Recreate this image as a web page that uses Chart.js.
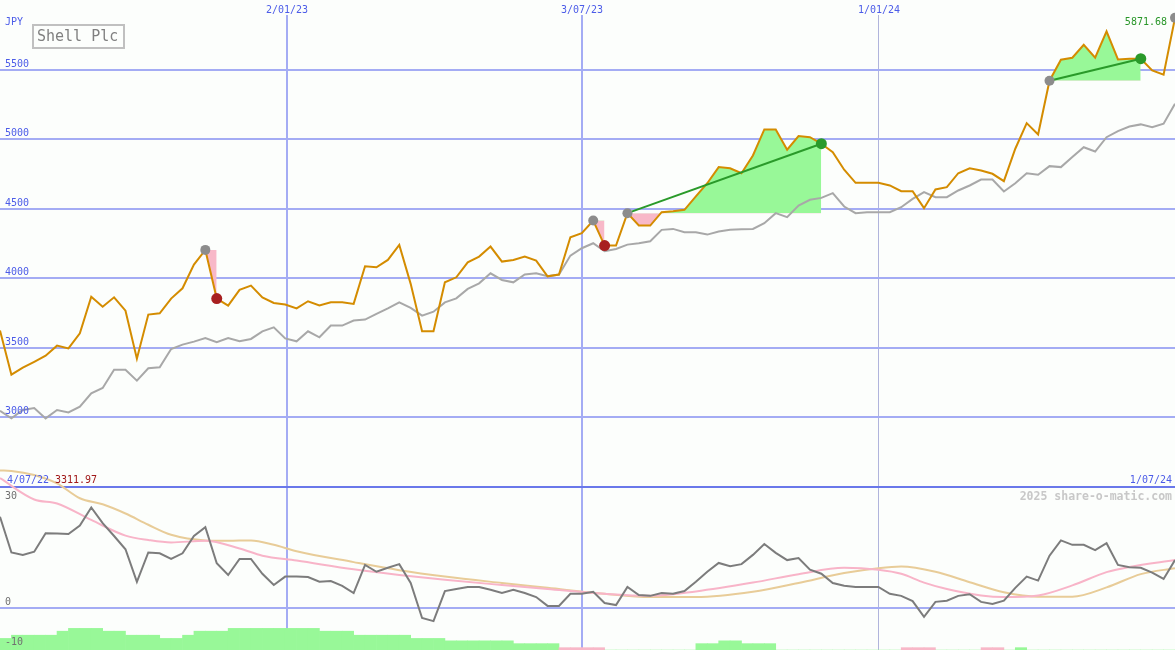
<!DOCTYPE html>
<html><head><meta charset="utf-8">
<script src="https://cdn.jsdelivr.net/npm/chart.js@4.4.1/dist/chart.umd.min.js"></script>
<style>html,body{margin:0;padding:0;background:#fcfefc;overflow:hidden}canvas{display:block}</style>
</head><body><canvas id="c" width="1175" height="650"></canvas>
<script>
// ---- data (weekly, index 0 = first week) ----
const price = [3624,3307,3358,3400,3444,3516,3496,3604,3868,3796,
3863,3767,3422,3739,3748,3854,3928,4099,4204,3854,
3804,3917,3947,3863,3823,3811,3784,3835,3804,3827,
3827,3816,4086,4079,4132,4240,3960,3619,3619,3971,
4007,4115,4156,4228,4120,4132,4156,4127,4014,4027,
4295,4324,4415,4235,4235,4468,4379,4379,4475,4482,
4492,4588,4683,4799,4791,4755,4883,5070,5070,4924,
5022,5014,4967,4906,4780,4686,4686,4686,4667,4626,
4626,4504,4638,4655,4755,4791,4775,4751,4698,4931,
5115,5034,5420,5571,5585,5678,5585,5775,5573,5578,
5578,5494,5463,5871.68];
const avgLine = [3048,2993,3053,3068,2993,3053,3036,3077,3173,3212,
3343,3343,3264,3353,3360,3492,3523,3545,3571,3540,
3571,3547,3564,3619,3647,3568,3547,3619,3576,3660,
3660,3696,3703,3744,3784,3827,3787,3732,3760,3827,
3856,3924,3964,4036,3988,3971,4027,4036,4014,4027,
4163,4216,4252,4194,4211,4242,4252,4266,4348,4355,
4331,4331,4314,4336,4348,4352,4355,4396,4468,4439,
4523,4564,4578,4612,4516,4468,4475,4475,4475,4511,
4571,4619,4583,4583,4631,4667,4710,4710,4624,4683,
4755,4744,4806,4799,4871,4942,4911,5014,5058,5091,
5106,5086,5111,5255];
const osc = [22.6,13.7,13.1,13.9,18.5,18.4,18.3,20.4,24.9,21.0,
17.8,14.5,6.4,13.7,13.5,12.1,13.5,17.8,20.0,11.0,
8.1,12.1,12.1,8.4,5.6,7.7,7.7,7.6,6.4,6.6,
5.4,3.6,10.6,8.9,9.9,10.8,6.1,-2.6,-3.4,4.1,
4.6,5.1,5.1,4.4,3.6,4.4,3.6,2.6,0.4,0.4,
3.4,3.4,3.9,1.1,0.6,5.1,3.1,2.9,3.6,3.4,
4.1,6.4,8.9,11.1,10.3,10.8,13.1,15.8,13.6,11.8,
12.3,9.4,8.4,6.1,5.4,5.1,5.1,5.1,3.4,2.9,
1.6,-2.3,1.4,1.7,2.9,3.3,1.4,0.9,1.7,4.9,
7.7,6.7,12.9,16.7,15.6,15.6,14.3,16.0,10.6,10.0,
9.9,8.7,7.1,11.8];
const pinkWeeks = [0,3,5,8,11,13,15,18,21,23,26,31,35,39,44,48,53,57,61,66,70,74,77,79,81,83,86,88,91,94,97,99,103];
const pinkVals  = [32.2,26.9,25.9,21.8,17.9,16.8,16.2,16.6,14.7,12.9,11.7,9.5,8.1,6.9,5.6,4.6,3.4,2.9,4.0,6.2,8.3,9.9,9.4,8.4,6.2,4.6,3.0,2.6,3.0,5.5,8.8,10.1,11.8];
const tanWeeks = [0,1,3,5,7,9,11,13,15,18,20,22,24,26,31,35,39,44,48,53,57,61,66,70,74,77,79,82,85,88,91,94,97,100,103];
const tanVals  = [34.1,34.0,33.0,30.9,27.2,25.7,23.4,20.6,18.1,16.7,16.6,16.7,15.6,14.0,11.3,9.3,7.7,6.1,4.9,3.4,2.6,2.6,3.9,6.1,8.6,9.8,10.2,8.9,6.3,3.8,2.7,2.7,5.0,8.3,9.8];
// histogram heights (positive = green, negative = pink)
const histVals = [2.9,3.7,3.7,3.7,3.7,4.7,5.4,5.4,5.4,4.7,
4.7,3.7,3.7,3.7,2.9,2.9,3.7,4.7,4.7,4.7,
5.4,5.4,5.4,5.4,5.4,5.4,5.4,5.4,4.7,4.7,
4.7,3.7,3.7,3.7,3.7,3.7,2.9,2.9,2.9,2.3,
2.3,2.3,2.3,2.3,2.3,1.6,1.6,1.6,1.6,-0.6,
-0.6,-0.6,-0.6,0,0,0,0,0,0,0,
0,1.6,1.6,2.3,2.3,1.6,1.6,1.6,0,0,
0,0,0,0,0,0,0,0,0,-0.6,
-0.6,-0.6,0,0,0,0,-0.6,-0.6,0,0.6,
0,0,0,0,0,0,0,0,0,0,
0,0,0,0];
const sigStart = [18,52,55,92];
const sigEnd   = [19,53,72,100];
const sigUp    = [false,false,true,true];
const xTickPos = [25.15,51.0,77.05];
const xTickLabels = ['2/01/23','3/07/23','1/01/24'];
const yTickVals = [5500,5000,4500,4000,3500,3000];
const currency = 'JPY';
const title = 'Shell Plc';
const startLabel = '4/07/22', minLabel = '3311.97', endLabel = '1/07/24', lastLabel = '5871.68';

// ---- chart ----
const BG='#fcfefc', GRID='#a4acf4', BLUE='#4c5ce8', GREEN_F='#98f898', PINK_F='#f8b8c8';
const pt = a => a.map((v,i)=>({x:i,y:v}));
const ds = [];
ds.push({data:pt(price),borderColor:'#d48c00',borderWidth:2,pointRadius:0,tension:0,fill:false,yAxisID:'y',order:2});
ds.push({data:pt(avgLine),borderColor:'#a8a8a8',borderWidth:2,pointRadius:0,tension:0,fill:false,yAxisID:'y',order:3});
sigStart.forEach((s,j)=>{
  const e=sigEnd[j];
  ds.push({data:price.slice(s,e+1).map((v,i)=>({x:s+i,y:v})),borderWidth:0,borderColor:'rgba(0,0,0,0)',pointRadius:0,
    fill:{target:{value:price[s]},above:GREEN_F,below:PINK_F},yAxisID:'y',order:5});
  if(sigUp[j]) ds.push({data:[{x:s,y:price[s]},{x:e,y:price[e]}],borderColor:'#2a9a2a',borderWidth:2,pointRadius:0,fill:false,yAxisID:'y',order:1});
});
const mk=[],mkc=[],mkr=[];
sigStart.forEach((s,j)=>{mk.push({x:s,y:price[s]});mkc.push('#8c8c8c');mkr.push(5);
  mk.push({x:sigEnd[j],y:price[sigEnd[j]]});mkc.push(sigUp[j]?'#2a9a2a':'#a82020');mkr.push(5.5);});
mk.push({x:price.length-1,y:price[price.length-1]});mkc.push('#8c8c8c');mkr.push(5);
ds.push({data:mk,showLine:false,pointRadius:mkr,pointBackgroundColor:mkc,pointBorderWidth:0,pointBorderColor:'rgba(0,0,0,0)',yAxisID:'y',order:0});
ds.push({data:pt(osc),borderColor:'#7c7c7c',borderWidth:2,pointRadius:0,tension:0,fill:false,yAxisID:'y2',order:3});
ds.push({data:pinkWeeks.map((k,i)=>({x:k,y:pinkVals[i]})),borderColor:'#f8b4c8',borderWidth:2,pointRadius:0,cubicInterpolationMode:'monotone',fill:false,yAxisID:'y2',order:4});
ds.push({data:tanWeeks.map((k,i)=>({x:k,y:tanVals[i]})),borderColor:'#e8cc98',borderWidth:2,pointRadius:0,cubicInterpolationMode:'monotone',fill:false,yAxisID:'y2',order:4});
const BOT=-10.6;
ds.push({type:'bar',data:histVals.map((v,i)=>({x:i+0.5,y:[BOT,BOT+Math.abs(v)]})),
  backgroundColor:histVals.map(v=>v>=0?GREEN_F:PINK_F),borderWidth:0,barPercentage:1,categoryPercentage:1,yAxisID:'y2',order:6});

const yMainMax=6000, yMainSep=2500, sepPx=487, H=650;
const perPx=(yMainMax-yMainSep)/sepPx;
const oscPer=(607.5-487)/30;

const textPlugin={id:'txt',
 beforeDraw(c){const x=c.ctx;x.save();x.fillStyle=BG;x.fillRect(0,0,c.width,c.height);x.restore();},
 afterDraw(c){
  const ctx=c.ctx,X=c.scales.x,Y=c.scales.y;
  ctx.save();
  ctx.font='10px "DejaVu Sans Mono"';ctx.textBaseline='alphabetic';
  ctx.textAlign='center';
  xTickPos.forEach((v,i)=>{const px=Math.round(X.getPixelForValue(v));const w=ctx.measureText(xTickLabels[i]).width;
    ctx.fillStyle=BG;ctx.fillRect(px-w/2-1,0,w+2,15);ctx.fillStyle=BLUE;ctx.fillText(xTickLabels[i],px,13);});
  ctx.textAlign='left';ctx.fillStyle=BLUE;
  ctx.fillText(currency,5,25);
  yTickVals.forEach(v=>ctx.fillText(String(v),5,Math.round(Y.getPixelForValue(v))-3));
  ctx.fillText(startLabel,7,483);
  ctx.fillStyle='#a01818';ctx.fillText(minLabel,55,483);
  ctx.textAlign='right';ctx.fillStyle=BLUE;ctx.fillText(endLabel,1172,483);
  ctx.fillStyle='#289628';ctx.fillText(lastLabel,1167,25);
  ctx.font='bold 11.5px "DejaVu Sans Mono"';ctx.fillStyle='#c8c8c8';ctx.fillText('2025 share-o-matic.com',1172,500);
  ctx.font='10px "DejaVu Sans Mono"';ctx.textAlign='left';ctx.fillStyle='#707070';
  ctx.fillText('30',5,499);ctx.fillText('0',5,605);ctx.fillText('-10',5,645);
  ctx.strokeStyle='#c0c0c0';ctx.lineWidth=2;ctx.strokeRect(33,25,91,23);
  ctx.font='15px "DejaVu Sans Mono"';ctx.fillStyle='#808080';ctx.fillText(title,37,41);
  ctx.restore();
 }};

new Chart(document.getElementById('c'),{
 type:'line',data:{datasets:ds},
 options:{responsive:false,animation:false,devicePixelRatio:1,events:[],
  layout:{padding:0,autoPadding:false},
  plugins:{legend:{display:false},tooltip:{enabled:false}},
  scales:{
   x:{type:'linear',min:0,max:103,offset:false,
      afterBuildTicks:a=>{a.ticks=xTickPos.map(v=>({value:v}));},
      ticks:{display:false},border:{display:false},
      grid:{offset:false,drawTicks:false,color:c=>c.index===2?'#b0b4dc':GRID,lineWidth:c=>c.index===2?1:2}},
   y:{type:'linear',position:'left',min:yMainSep-(H-sepPx)*perPx,max:yMainMax,
      afterBuildTicks:a=>{a.ticks=[2500].concat(yTickVals).map(v=>({value:v}));},
      ticks:{display:false},border:{display:false},
      grid:{drawTicks:false,color:c=>c.tick&&c.tick.value===2500?'#6a78ea':GRID,lineWidth:2}},
   y2:{type:'linear',position:'left',min:-(H-607.5)/oscPer,max:30+sepPx/oscPer,
      afterBuildTicks:a=>{a.ticks=[{value:0}];},
      ticks:{display:false},border:{display:false},
      grid:{drawTicks:false,color:GRID,lineWidth:2}}
  }},
 plugins:[textPlugin]
});
</script></body></html>
